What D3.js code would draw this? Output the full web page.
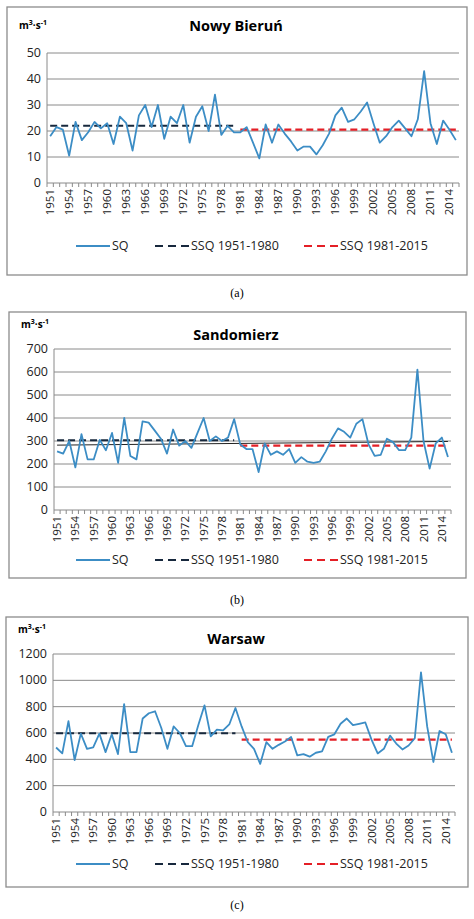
<!DOCTYPE html>
<html><head><meta charset="utf-8">
<script src="https://cdn.jsdelivr.net/npm/d3@7"></script>
<style>body{margin:0;background:#fff;font-family:"Open Sans",sans-serif}</style>
</head><body>
<svg id="chart" width="474" height="919"></svg>
<script>
"use strict";

const years = d3.range(1951, 2016);

const sqNowyBierun = [18,21.5,20.5,10.5,23.5,16.5,19.5,23.5,21,23,15,25.5,23,12.5,26,30,21.5,30,17,25.5,23,30,15.5,25.5,29.5,20,34,18.5,22,19.5,
  19.5,21.5,15.5,9.5,22.5,15.5,22.5,19,16,12.5,14,14,11,14.5,19,26,29,23.5,24.5,27.5,31,23,15.5,18,21.5,24,21,18,24.5,43,23,15,24,20.5,16.5];
const sqSandomierz = [255,245,300,185,330,220,220,305,260,335,205,400,235,220,385,380,345,310,245,350,280,300,270,335,400,300,320,300,315,395,
  285,265,265,165,290,240,255,240,265,205,230,210,205,210,255,310,355,340,315,375,395,285,235,240,310,295,260,260,315,610,300,180,290,315,230];
const sqWarsaw = [490,445,690,395,595,480,490,595,455,590,440,820,455,455,710,750,765,640,480,650,600,500,500,660,810,575,625,620,665,790,
  650,530,480,365,530,480,510,535,570,430,440,420,450,460,570,590,670,710,660,670,680,550,445,480,580,520,475,505,560,1060,650,380,615,590,450];

const ssqEarly = [22, 303, 598];   // SSQ 1951-1980
const ssqLate = [20.5, 280, 550];  // SSQ 1981-2015
const sandomierzTrend = [282, 298]; // thin black line, 1951 -> 2015

const panels = [
  {name:"Nowy Bieruń", data:sqNowyBierun, early:ssqEarly[0], late:ssqLate[0], max:50, step:10,
   box:[7,7,460,268], plot:[47,459,53,183], titleY:31, unitY:29, legendY:246, cap:"(a)", capY:297},
  {name:"Sandomierz", data:sqSandomierz, early:ssqEarly[1], late:ssqLate[1], max:700, step:100, trend:sandomierzTrend,
   box:[9,312,457,266], plot:[54,451,349,510], titleY:340, unitY:328, legendY:560, cap:"(b)", capY:604},
  {name:"Warsaw", data:sqWarsaw, early:ssqEarly[2], late:ssqLate[2], max:1200, step:200,
   box:[6,617,462,270], plot:[53,455,654,812], titleY:644, unitY:633, legendY:864, cap:"(c)", capY:909}
];

const svg = d3.select("#chart");
const blue = "#3c8dc5";

panels.forEach(function (p) {
  const g = svg.append("g");
  g.append("rect").attr("x", p.box[0]).attr("y", p.box[1]).attr("width", p.box[2]).attr("height", p.box[3])
    .attr("fill", "#fff").attr("stroke", "#8c8c8c").attr("stroke-width", 1.3);

  const x = d3.scaleBand().domain(years).range([p.plot[0], p.plot[1]]).padding(0);
  const cx = function (yr) { return x(yr) + x.bandwidth() / 2; };
  const y = d3.scaleLinear().domain([0, p.max]).range([p.plot[3], p.plot[2]]);

  // gridlines + y labels
  const ticks = d3.range(0, p.max + 1, p.step);
  g.selectAll(".grid").data(ticks).enter().append("line")
    .attr("x1", p.plot[0]).attr("x2", p.plot[1])
    .attr("y1", d => y(d)).attr("y2", d => y(d))
    .attr("stroke", "#8a8a8a").attr("stroke-width", 1);
  g.selectAll(".yl").data(ticks).enter().append("text")
    .attr("x", p.plot[0] - 6).attr("y", d => y(d) + 4)
    .attr("text-anchor", "end").attr("font-size", 12.5).attr("fill", "#222").text(d => d);
  g.append("line").attr("x1", p.plot[0]).attr("x2", p.plot[0]).attr("y1", p.plot[2]).attr("y2", p.plot[3])
    .attr("stroke", "#8a8a8a");

  // x tick marks at category boundaries
  g.selectAll(".xt").data(years.concat([2016])).enter().append("line")
    .attr("x1", d => d === 2016 ? p.plot[1] : x(d)).attr("x2", d => d === 2016 ? p.plot[1] : x(d))
    .attr("y1", p.plot[3]).attr("y2", p.plot[3] + 4).attr("stroke", "#8a8a8a");
  g.selectAll(".xl").data(years.filter((d, i) => i % 3 === 0)).enter().append("text")
    .attr("transform", d => "translate(" + (cx(d) + 4) + "," + (p.plot[3] + 6) + ") rotate(-90)")
    .attr("text-anchor", "end").attr("font-size", 11.5).attr("fill", "#222").text(d => d);

  // trend line
  if (p.trend) {
    g.append("line").attr("x1", cx(1951)).attr("x2", cx(2015))
      .attr("y1", y(p.trend[0])).attr("y2", y(p.trend[1])).attr("stroke", "#222").attr("stroke-width", 1);
  }

  // SSQ lines
  g.append("line").attr("x1", cx(1951)).attr("x2", cx(1980)).attr("y1", y(p.early)).attr("y2", y(p.early))
    .attr("stroke", "#17283d").attr("stroke-width", 2).attr("stroke-dasharray", "7,4");
  g.append("line").attr("x1", cx(1981)).attr("x2", cx(2015)).attr("y1", y(p.late)).attr("y2", y(p.late))
    .attr("stroke", "#e41f26").attr("stroke-width", 2.2).attr("stroke-dasharray", "7,4");

  const line = d3.line().x((d, i) => cx(years[i])).y(d => y(d));
  g.append("path").datum(p.data).attr("d", line).attr("fill", "none")
    .attr("stroke", blue).attr("stroke-width", 1.8).attr("stroke-linejoin", "round");

  // titles
  g.append("text").attr("x", 236).attr("y", p.titleY).attr("text-anchor", "middle")
    .attr("font-size", 14.5).attr("font-weight", "bold").text(p.name);
  const u = g.append("text").attr("x", p.box[0] + 12).attr("y", p.unitY).attr("font-size", 10).attr("font-weight", "bold");
  u.append("tspan").text("m");
  u.append("tspan").attr("dy", -4).attr("font-size", 7).text("3");
  u.append("tspan").attr("dy", 4).text("·s");
  u.append("tspan").attr("dy", -4).attr("font-size", 7).text("-1");

  // legend
  const leg = [
    {label:"SQ", color:blue, dash:null, x:76},
    {label:"SSQ 1951-1980", color:"#17283d", dash:"8,5", x:155},
    {label:"SSQ 1981-2015", color:"#e41f26", dash:"8,5", x:304}
  ];
  leg.forEach(function (l) {
    g.append("line").attr("x1", l.x).attr("x2", l.x + 34).attr("y1", p.legendY).attr("y2", p.legendY)
      .attr("stroke", l.color).attr("stroke-width", 2).attr("stroke-dasharray", l.dash);
    g.append("text").attr("x", l.x + 36).attr("y", p.legendY + 4).attr("font-size", 12.5).attr("fill", "#222").text(l.label);
  });

  svg.append("text").attr("x", 237).attr("y", p.capY).attr("text-anchor", "middle")
    .attr("font-family", "Liberation Serif, serif").attr("font-size", 12).text(p.cap);
});
</script>
</body></html>
